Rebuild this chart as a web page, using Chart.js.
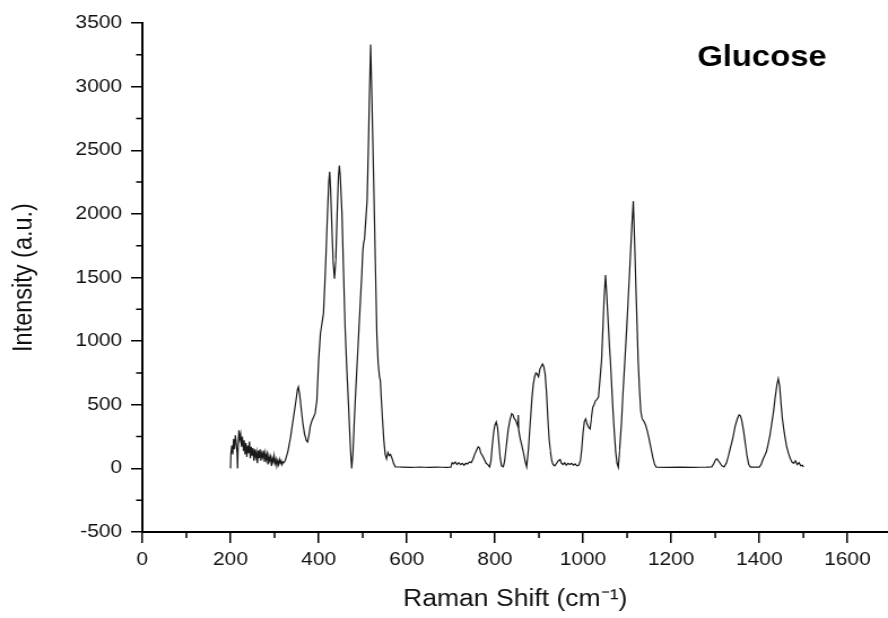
<!DOCTYPE html>
<html>
<head>
<meta charset="utf-8">
<title>Glucose Raman spectrum</title>
<script src="https://cdn.jsdelivr.net/npm/chart.js@4/dist/chart.umd.min.js"></script>
<style>
  html, body { margin: 0; padding: 0; background: #fff; overflow: hidden; }
</style>
</head>
<body>
<!-- drawn on a narrower canvas and widened by CSS so the lettering gets the wide Arial look -->
<canvas id="c" width="786" height="618" style="display:block;width:888px;height:618px"></canvas>
<script>
// Raman shift (cm^-1) and intensity (a.u.), split by spectral region
const shiftLow = [
  200,201,203,205,207,209,211,213,215,216,
  217,219,221,223,225,227,229,231,233,235,
  237,239,241,243,245,247,249,251,253,255,
  257,259,261,263,265,267,269,271,273,275,
  277,279,281,283,285,287,289,291,293,295,
  297,299,301,303,305,307,309,311,313,315,
  317,319,321,324
];
const intensityLow = [
  0,120,180,110,230,150,260,200,120,0,
  140,300,230,270,170,250,140,220,110,200,
  90,180,120,210,80,170,100,160,60,150,
  90,130,40,140,80,150,60,120,90,140,
  50,120,70,110,30,100,60,90,20,80,
  50,100,40,70,20,60,30,70,40,60,
  30,50,45,60
];

const shiftMain = [
  330,336,342,348,352,354,357,360,364,368,
  372,375,378,381,385,388,392,396,400,404,
  408,411,414,417,420,423,425,427,430,433,
  436,439,442,445,447,449,451,453,456,460,
  464,468,471,473,475,478,481,484,487,490,
  493,496,498,500,502,504,507,510,513,515,
  518,521,524,527,530,532,535,538,540,542,
  545,548,551,554,557,560,563,566,570,574
];
const intensityMain = [
  130,240,380,520,620,640,580,480,360,270,
  220,207,260,330,377,400,432,535,850,1060,
  1150,1220,1450,1710,2000,2250,2330,2200,1900,1620,
  1490,1650,2000,2300,2380,2300,2150,2000,1600,1110,
  780,480,240,100,0,130,380,600,800,1000,
  1200,1400,1530,1700,1770,1800,1950,2110,2550,2900,
  3330,2890,2400,1900,1400,1060,830,720,690,560,
  380,220,110,75,125,100,110,85,40,12
];

const shiftMid = [
  590,610,630,650,670,690,700,703,706,710,
  714,718,722,726,730,734,738,742,746,750,
  754,758,762,765,768,772,776,780,784,788,
  791,794,797,800,803,806,809,812,815,819,
  822,826,830,834,838,841,844,847,850,852,
  853,854,857,861,865,869,872,876,880,884,
  887,890,893,896,899,902,905,908,911,914,
  917,920,923,926,929,932,936,940,944,948,
  951,955,958,962,966,970,974,978,982,986,
  990
];
const intensityMid = [
  10,8,10,8,10,8,10,45,35,50,
  30,45,30,40,25,40,35,50,45,70,
  110,140,170,160,120,100,70,40,30,12,
  60,180,280,340,365,320,200,80,20,12,
  60,180,300,380,430,420,390,380,350,330,
  420,300,240,180,120,50,12,150,350,550,
  660,720,750,740,720,780,800,820,800,740,
  600,400,230,130,60,30,20,40,60,70,
  40,30,45,25,40,30,40,25,35,20,
  25
];

const shiftHigh = [
  994,997,1000,1003,1006,1009,1013,1016,1019,1022,
  1025,1028,1031,1035,1038,1042,1045,1048,1051,1054,
  1057,1060,1062,1065,1068,1071,1074,1077,1080,1083,
  1087,1091,1095,1099,1103,1107,1111,1114,1117,1120,
  1123,1125,1128,1131,1134,1138,1142,1146,1150,1154,
  1158,1162,1166,1190,1220,1250,1280,1292,1297,1301,
  1304,1307,1311,1315,1320,1325,1330,1335,1340,1345,
  1350,1354,1357,1360,1364,1368,1372,1376,1380,1400,
  1404,1408,1412,1416,1420,1424,1428,1432,1436,1440,
  1443,1446,1449,1452,1455,1458,1462,1466,1470,1474,
  1478,1482,1486,1490,1494,1498,1500
];
const intensityHigh = [
  60,150,280,370,390,350,320,310,400,480,
  500,530,540,560,680,850,1100,1350,1520,1350,
  1150,950,850,650,450,280,130,40,8,150,
  350,620,850,1100,1370,1640,1920,2100,1780,1420,
  1080,850,620,450,390,370,340,290,230,160,
  90,35,10,8,10,8,10,12,40,70,
  75,60,40,20,12,40,100,170,240,330,
  390,420,415,380,300,200,100,30,10,10,
  30,70,100,130,190,260,350,440,560,660,
  705,650,520,400,320,250,170,120,80,50,
  40,60,30,45,20,25,10
];

// axis ticks
const xMajorTicks = [0, 200, 400, 600, 800, 1000, 1200, 1400, 1600];
const xMinorTicks = [100, 300, 500, 700, 900, 1100, 1300, 1500];
const yMajorTicks = [-500, 0, 500, 1000, 1500, 2000, 2500, 3000, 3500];
const yMinorTicks = [-250, 250, 750, 1250, 1750, 2250, 2750, 3250];

const sampleName = 'Glucose';

const ramanShift = shiftLow.concat(shiftMain, shiftMid, shiftHigh);
const intensity = intensityLow.concat(intensityMain, intensityMid, intensityHigh);
const points = ramanShift.map((s, i) => ({ x: s, y: intensity[i] }));

const FONT = '"Liberation Sans", Arial, Helvetica, sans-serif';
const INK = '#111';

// short unlabeled ticks between the labeled ones, plus the sample name
const minorTicksAndLabel = {
  id: 'minorTicksAndLabel',
  afterDraw(chart) {
    const { ctx, scales: { x, y } } = chart;
    ctx.save();
    ctx.strokeStyle = '#000';
    ctx.lineWidth = 1.5;
    ctx.beginPath();
    xMinorTicks.forEach(v => {
      const p = x.getPixelForValue(v);
      ctx.moveTo(p, x.top);
      ctx.lineTo(p, x.top + 6);
    });
    yMinorTicks.forEach(v => {
      const p = y.getPixelForValue(v);
      ctx.moveTo(y.right - 5.5, p);
      ctx.lineTo(y.right, p);
    });
    ctx.stroke();

    ctx.fillStyle = '#000';
    ctx.font = 'bold 29px ' + FONT;
    ctx.textAlign = 'center';
    ctx.textBaseline = 'middle';
    ctx.fillText(sampleName, x.getPixelForValue(1406), y.getPixelForValue(3227));
    ctx.restore();
  }
};

const plainNumber = v => String(v);

new Chart(document.getElementById('c'), {
  type: 'line',
  data: {
    datasets: [{
      data: points,
      borderColor: '#1a1a1a',
      borderWidth: 1.2,
      pointRadius: 0,
      // a tiny non-zero tension keeps every vertex exact (no per-pixel min/max path)
      tension: 0.000001,
      fill: false
    }]
  },
  options: {
    responsive: false,
    animation: false,
    events: [],
    layout: { padding: { top: 23, right: 0, bottom: 0, left: 0 } },
    plugins: { legend: { display: false }, tooltip: { enabled: false }, title: { display: false } },
    scales: {
      x: {
        type: 'linear',
        min: 0,
        max: 1692,
        afterBuildTicks(s) { s.ticks = xMajorTicks.map(v => ({ value: v })); },
        afterFit(s) { s.height = 86; },
        ticks: { padding: 6, color: INK, font: { family: FONT, size: 18.5 }, callback: plainNumber },
        grid: { drawOnChartArea: false, drawTicks: true, tickLength: 11, color: '#000', lineWidth: 1.5 },
        border: { display: true, color: '#000', width: 2 },
        title: {
          display: true,
          text: 'Raman Shift (cm\u207B\u00B9)',
          color: INK,
          font: { family: FONT, size: 23.5 },
          padding: { top: 0, bottom: 4 }
        }
      },
      y: {
        type: 'linear',
        min: -500,
        max: 3500,
        afterBuildTicks(s) { s.ticks = yMajorTicks.map(v => ({ value: v })); },
        afterFit(s) { s.width = 126; },
        ticks: { padding: 8, color: INK, font: { family: FONT, size: 18.5 }, callback: plainNumber },
        grid: { drawOnChartArea: false, drawTicks: true, tickLength: 10, color: '#000', lineWidth: 1.5 },
        border: { display: true, color: '#000', width: 2 },
        title: {
          display: true,
          text: 'Intensity (a.u.)',
          color: INK,
          font: { family: FONT, size: 23.5 },
          padding: { top: 7, bottom: 0 }
        }
      }
    }
  },
  plugins: [minorTicksAndLabel]
});
</script>
</body>
</html>
